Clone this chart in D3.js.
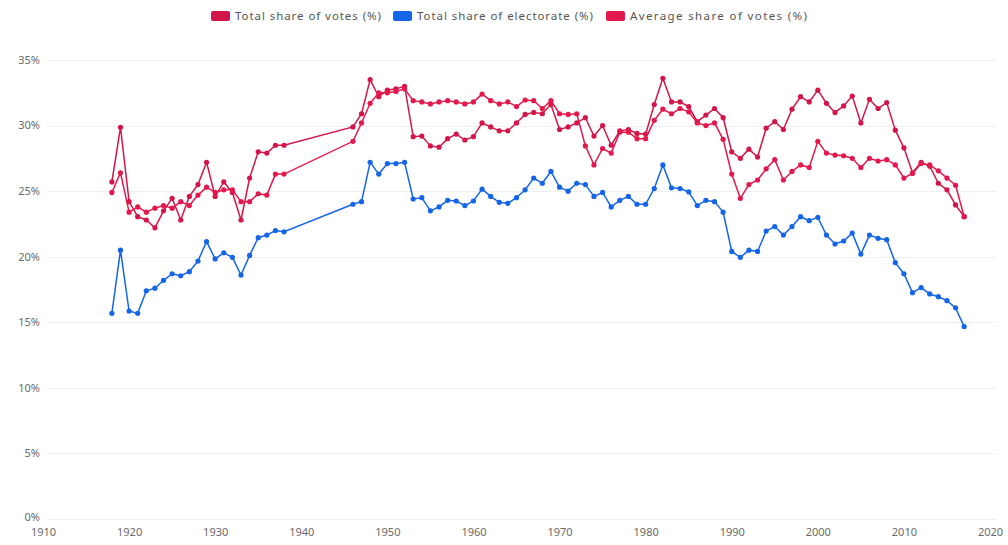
<!DOCTYPE html>
<html lang="en">
<head>
<meta charset="utf-8">
<title>Share of votes and electorate</title>
<style>
  body { margin: 0; background: #fff; }
  .axis text { font: 11px "Noto Sans", sans-serif; fill: #6a6a6a; }
  .axis path, .axis line { display: none; }
  .grid line { stroke: #efefef; stroke-width: 1; shape-rendering: crispEdges; }
  .legend text { font: 11.5px "Noto Sans", sans-serif; fill: #555; }
</style>
</head>
<body>
<div id="chart"></div>
<script src="https://d3js.org/d3.v7.min.js"></script>
<script>
  var years = [1918, 1919, 1920, 1921, 1922, 1923, 1924, 1925, 1926, 1927, 1928, 1929, 1930,
    1931, 1932, 1933, 1934, 1935, 1936, 1937, 1938,
    1946, 1947, 1948, 1949, 1950, 1951, 1952, 1953, 1954, 1955, 1956, 1957, 1958, 1959, 1960,
    1961, 1962, 1963, 1964, 1965, 1966, 1967, 1968, 1969, 1970, 1971, 1972, 1973, 1974, 1975,
    1976, 1977, 1978, 1979, 1980, 1981, 1982, 1983, 1984, 1985, 1986, 1987, 1988, 1989, 1990,
    1991, 1992, 1993, 1994, 1995, 1996, 1997, 1998, 1999, 2000, 2001, 2002, 2003, 2004, 2005,
    2006, 2007, 2008, 2009, 2010, 2011, 2012, 2013, 2014, 2015, 2016, 2017];

  var totalVotes = [25.7, 29.87, 24.2, 23.05, 22.8, 22.2, 23.5, 24.45, 22.8, 24.6, 25.5, 27.2, 24.6,
    25.7, 24.9, 22.8, 26.0, 28.0, 27.9, 28.5, 28.5,
    29.9, 30.9, 33.5, 32.2, 32.7, 32.8, 33.0,
    29.15, 29.2, 28.45, 28.35, 29.0, 29.35, 28.9, 29.15, 30.2, 29.9, 29.6, 29.6, 30.2, 30.85,
    31.0, 30.9, 31.6, 29.7, 29.9, 30.2,
    30.6, 29.2, 30.0, 28.5, 29.6, 29.7, 29.4, 29.35, 31.6, 33.6,
    31.8, 31.8, 31.45, 30.3, 30.8, 31.3, 30.6, 28.0, 27.5, 28.2,
    27.6, 29.8, 30.3, 29.7, 31.25, 32.2, 31.8, 32.7, 31.7, 31.0,
    31.5, 32.25, 30.2, 32.0, 31.3, 31.75, 29.65, 28.3, 26.4, 27.2,
    26.9, 25.6, 25.1, 23.95, 23.05];

  var electorate = [15.68, 20.5, 15.86, 15.68, 17.4, 17.6, 18.2, 18.7, 18.55, 18.86, 19.67, 21.15, 19.83,
    20.3, 19.95, 18.6, 20.1, 21.45, 21.65, 22.0, 21.9,
    24.0, 24.2, 27.2, 26.3, 27.1, 27.1, 27.2,
    24.4, 24.5, 23.5, 23.8, 24.3, 24.25, 23.9, 24.25, 25.15, 24.6, 24.15, 24.07, 24.5, 25.1,
    26.0, 25.6, 26.5, 25.3, 25.0, 25.6,
    25.5, 24.6, 24.9, 23.8, 24.3, 24.6, 24.0, 24.0, 25.2, 27.0,
    25.25, 25.2, 24.95, 23.9, 24.3, 24.2, 23.4, 20.4, 19.95, 20.5,
    20.4, 21.96, 22.3, 21.65, 22.3, 23.05, 22.75, 23.0, 21.65, 20.97,
    21.2, 21.8, 20.2, 21.65, 21.4, 21.3, 19.55, 18.7, 17.26, 17.65,
    17.16, 16.95, 16.65, 16.1, 14.67];

  var averageVotes = [24.9, 26.4, 23.4, 23.8, 23.4, 23.7, 23.9, 23.7, 24.2, 23.9, 24.7, 25.3, 24.9,
    25.1, 25.1, 24.2, 24.2, 24.8, 24.7, 26.3, 26.3,
    28.8, 30.2, 31.7, 32.5, 32.5, 32.6, 32.8,
    31.9, 31.8, 31.65, 31.8, 31.9, 31.8, 31.65, 31.8, 32.4, 31.9, 31.65, 31.8, 31.45, 31.95,
    31.9, 31.3, 31.9, 30.9, 30.85, 30.9,
    28.45, 27.0, 28.25, 27.9, 29.5, 29.5, 29.0, 29.0, 30.4, 31.25,
    30.9, 31.3, 31.05, 30.2, 30.0, 30.2, 28.95, 26.3, 24.45, 25.5,
    25.85, 26.7, 27.4, 25.85, 26.5, 27.0, 26.8, 28.8, 27.9, 27.75,
    27.7, 27.5, 26.8, 27.5, 27.3, 27.4, 27.0, 26.0, 26.35, 27.1,
    27.0, 26.55, 26.0, 25.45, 23.05];

  var seriesNames = ["Total share of votes (%)", "Total share of electorate (%)", "Average share of votes (%)"];
  var seriesColors = ["#d3164a", "#1565e8", "#e3194e"];
  var yTicks = [0, 5, 10, 15, 20, 25, 30, 35];
  var xTicks = [1910, 1920, 1930, 1940, 1950, 1960, 1970, 1980, 1990, 2000, 2010, 2020];

  var W = 1008, H = 545;
  var margin = { top: 60, right: 18, bottom: 26, left: 43 };

  var svg = d3.select("#chart").append("svg")
    .attr("width", W)
    .attr("height", H);

  var x = d3.scaleLinear().domain([1910, 2020]).range([margin.left, W - margin.right]);
  var y = d3.scaleLinear().domain([0, 35]).range([H - margin.bottom, margin.top]);

  // grid
  svg.append("g")
    .attr("class", "grid")
    .selectAll("line")
    .data(yTicks)
    .enter().append("line")
    .attr("x1", 48)
    .attr("x2", W - 12)
    .attr("y1", function(d) { return Math.round(y(d)) + 0.5; })
    .attr("y2", function(d) { return Math.round(y(d)) + 0.5; });

  svg.append("g")
    .attr("class", "axis")
    .attr("transform", "translate(40,0)")
    .call(d3.axisLeft(y).tickValues(yTicks).tickSize(0).tickPadding(0)
      .tickFormat(function(d) { return d + "%"; }))
    .selectAll("text").attr("dy", function(d) { return d === 0 ? "0.1em" : "0.3em"; });

  svg.append("g")
    .attr("class", "axis")
    .attr("transform", "translate(0," + (H - margin.bottom + 9) + ")")
    .call(d3.axisBottom(x).tickValues(xTicks).tickSize(0).tickPadding(0)
      .tickFormat(d3.format("d")));

  var allSeries = [totalVotes, electorate, averageVotes];

  var line = d3.line()
    .x(function(d) { return x(d.year); })
    .y(function(d) { return y(d.value); });

  allSeries.forEach(function(vals, i) {
    var pts = years.map(function(yr, j) { return { year: yr, value: vals[j] }; });
    var g = svg.append("g");
    g.append("path")
      .datum(pts)
      .attr("fill", "none")
      .attr("stroke", seriesColors[i])
      .attr("stroke-width", 1.5)
      .attr("d", line);
    g.selectAll("circle")
      .data(pts)
      .enter().append("circle")
      .attr("cx", function(d) { return x(d.year); })
      .attr("cy", function(d) { return y(d.value); })
      .attr("r", 2.6)
      .attr("fill", seriesColors[i]);
  });

  // legend
  var legendX = [211, 393, 606];
  var legendW = [146, 176, 177];
  var legend = svg.append("g").attr("class", "legend");
  seriesNames.forEach(function(name, i) {
    legend.append("rect")
      .attr("x", legendX[i])
      .attr("y", 11)
      .attr("width", 19)
      .attr("height", 10)
      .attr("rx", 2)
      .attr("fill", seriesColors[i]);
    legend.append("text")
      .attr("x", legendX[i] + 24)
      .attr("y", 20)
      .attr("textLength", legendW[i])
      .attr("lengthAdjust", "spacing")
      .text(name);
  });
</script>
</body>
</html>
